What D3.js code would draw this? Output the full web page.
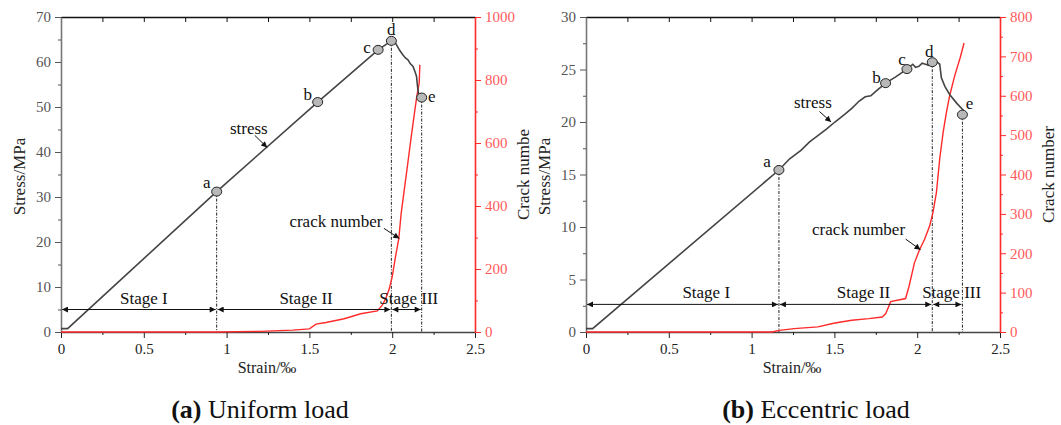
<!DOCTYPE html>
<html>
<head>
<meta charset="utf-8">
<script src="https://cdn.jsdelivr.net/npm/d3@7"></script>
<style>
  body { margin: 0; background: #fff; }
  svg { display: block; }
  text { font-family: "Liberation Serif", "Times New Roman", "DejaVu Serif", serif; }
</style>
</head>
<body>
<script>
"use strict";

// ---- data ----

// (a) uniform load
let strainA = [0, 0.04, 0.94, 1.55, 1.915, 1.995, 2.02, 2.045, 2.064, 2.08, 2.095, 2.11, 2.126, 2.14, 2.147, 2.153, 2.16];
let stressA = [0.75, 0.75, 31.2, 51.1, 62.7, 64.7, 64.2, 62.6, 61.6, 60.9, 60.5, 59.6, 59.0, 57.6, 56.8, 54.6, 52.7];

let crackStrainA = [0, 0.94, 1.2, 1.4, 1.5, 1.54, 1.6, 1.71, 1.81, 1.91, 1.94, 1.96, 1.98, 2.0, 2.02, 2.04, 2.054, 2.07, 2.094, 2.115, 2.137, 2.15, 2.163, 2.167];
let crackA = [0, 0, 2, 6, 10, 25, 30, 42, 58, 67, 85, 105, 133, 175, 239, 297, 376, 440, 535, 620, 705, 753, 790, 848];

let pointNames = ["a", "b", "c", "d", "e"];
let pointStrainA = [0.94, 1.55, 1.915, 1.995, 2.178];
let pointStressA = [31.2, 51.1, 62.7, 64.7, 52.1];

// (b) eccentric load
let strainB = [0, 0.04, 1.165, 1.23, 1.298, 1.35, 1.40, 1.45, 1.503, 1.56, 1.605, 1.65, 1.686, 1.72, 1.748, 1.809, 1.87, 1.938, 1.973, 1.99, 2.01, 2.03, 2.05, 2.07, 2.091, 2.12, 2.136, 2.146, 2.167, 2.197, 2.238, 2.28];
let stressB = [0.32, 0.32, 15.43, 16.5, 17.3, 18.1, 18.7, 19.3, 20.0, 20.7, 21.3, 22.0, 22.4, 22.5, 22.9, 23.7, 24.3, 25.04, 25.5, 25.2, 25.3, 25.6, 25.5, 25.4, 25.7, 25.7, 25.5, 24.2, 23.4, 22.6, 21.8, 21.1];

let crackStrainB = [0, 1.124, 1.165, 1.257, 1.40, 1.503, 1.605, 1.707, 1.789, 1.81, 1.84, 1.93, 1.95, 1.983, 2.014, 2.044, 2.075, 2.095, 2.116, 2.136, 2.157, 2.177, 2.197, 2.228, 2.259, 2.283];
let crackB = [0, 0, 4, 8.5, 13, 23, 30, 34, 38, 47, 77, 85, 115, 175, 209, 235, 269, 303, 354, 440, 508, 559, 602, 653, 696, 734];

let pointStrainB = [1.165, 1.809, 1.938, 2.091, 2.273];
let pointStressB = [15.43, 23.7, 25.04, 25.7, 20.7];

// stage annotations
let stageNames = ["Stage I", "Stage II", "Stage III"];
let stageTextA = [0.5, 1.48, 2.1];
let stageTextB = [0.726, 1.676, 2.208];
let stageLevelA = 5;
let stageLevelB = 2.63;

let xTicks = [0, 0.5, 1, 1.5, 2, 2.5];
let xTickLabels = ["0", "0.5", "1", "1.5", "2", "2.5"];

let panels = [
	{
		left: 61, strain: strainA, stress: stressA,
		crackStrain: crackStrainA, crack: crackA,
		pStrain: pointStrainA, pStress: pointStressA,
		yMax: 70, yStep: 10, cMax: 1000, cStep: 200,
		labelOff: [[-10, -9], [-10, -8], [-11, -2], [0, -11], [10, -1]],
		stageText: stageTextA, stageLevel: stageLevelA,
		stressLabel: [1.134, 45.3], stressArrow: [[1.17, 43.7], [1.245, 41.0]],
		crackLabel: [1.66, 350], crackArrow: [[1.95, 329], [2.043, 297]],
		rightTitle: "Crack numbe",
		caption: ["(a)", " Uniform load"], captionX: 260
	},
	{
		left: 586, strain: strainB, stress: stressB,
		crackStrain: crackStrainB, crack: crackB,
		pStrain: pointStrainB, pStress: pointStressB,
		yMax: 30, yStep: 5, cMax: 800, cStep: 100,
		labelOff: [[-12, -8], [-9, -6], [-5, -10], [-3, -11], [7, -11]],
		stageText: stageTextB, stageLevel: stageLevelB,
		stressLabel: [1.37, 21.9], stressArrow: [[1.41, 21.0], [1.48, 20.0]],
		crackLabel: [1.646, 260], crackArrow: [[1.93, 236], [2.02, 209]],
		rightTitle: "Crack number",
		caption: ["(b)", " Eccentric load"], captionX: 816
	}
];

let serif = "Liberation Serif, Times New Roman, serif";

let svg = d3.select("body").append("svg")
	.attr("width", 1061)
	.attr("height", 425)
	.attr("font-family", serif);

let defs = svg.append("defs");
defs.append("marker")
	.attr("id", "head")
	.attr("viewBox", "0 0 10 10")
	.attr("refX", 10).attr("refY", 5)
	.attr("markerWidth", 8).attr("markerHeight", 6)
	.attr("markerUnits", "userSpaceOnUse")
	.attr("orient", "auto-start-reverse")
	.append("path").attr("d", "M0,0L10,5L0,10Z").attr("fill", "#111");

let plotW = 414, plotTop = 17, plotBottom = 332;
let axisCol = "#444", red = "#ff2a2a", redText = "#ff5a5a";

panels.forEach(function (p) {

	let x = d3.scaleLinear().domain([0, 2.5]).range([p.left, p.left + plotW]);
	let y = d3.scaleLinear().domain([0, p.yMax]).range([plotBottom, plotTop]);
	let yc = d3.scaleLinear().domain([0, p.cMax]).range([plotBottom, plotTop]);
	let right = p.left + plotW;

	let g = svg.append("g");

	// minor ticks
	let xMinor = d3.range(0.25, 2.5, 0.5);
	let yMinor = d3.range(p.yStep / 2, p.yMax, p.yStep);
	let cMinor = d3.range(p.cStep / 2, p.cMax, p.cStep);

	// bottom axis
	let xb = g.append("g").attr("transform", "translate(0," + plotBottom + ")")
		.call(d3.axisBottom(x).tickValues(xTicks).tickFormat((d, i) => xTickLabels[i]).tickSize(6).tickSizeOuter(0))
		.attr("font-family", serif).attr("font-size", 15);
	xb.selectAll("text").attr("fill", "#222").attr("dy", "0.85em");
	xb.selectAll("line").attr("stroke", "#222");
	xb.select(".domain").attr("stroke", axisCol).attr("stroke-width", 1.6);
	g.append("g").attr("transform", "translate(0," + plotBottom + ")")
		.call(d3.axisBottom(x).tickValues(xMinor).tickFormat("").tickSize(3).tickSizeOuter(0))
		.call(s => s.select(".domain").remove())
		.selectAll("line").attr("stroke", "#222");

	// top axis (inward ticks)
	let xt = g.append("g").attr("transform", "translate(0," + plotTop + ")")
		.call(d3.axisBottom(x).tickValues(xTicks.concat(xMinor)).tickFormat("").tickSize(5).tickSizeOuter(0));
	xt.select(".domain").attr("stroke", "#111").attr("stroke-width", 1.4);
	xt.selectAll("line").attr("stroke", "#111");

	// left axis
	let yl = g.append("g").attr("transform", "translate(" + p.left + ",0)")
		.call(d3.axisLeft(y).tickValues(d3.range(0, p.yMax + 0.01, p.yStep)).tickFormat(d3.format("d"))
			.tickSize(6).tickSizeOuter(0).tickPadding(4))
		.attr("font-family", serif).attr("font-size", 15);
	yl.selectAll("text").attr("fill", "#555");
	yl.selectAll("line").attr("stroke", "#555");
	yl.select(".domain").attr("stroke", "#777").attr("stroke-width", 1.6);
	g.append("g").attr("transform", "translate(" + p.left + ",0)")
		.call(d3.axisLeft(y).tickValues(yMinor).tickFormat("").tickSize(3).tickSizeOuter(0))
		.call(s => s.select(".domain").remove())
		.selectAll("line").attr("stroke", "#555");

	// right axis, crack number
	let yr = g.append("g").attr("transform", "translate(" + right + ",0)")
		.call(d3.axisRight(yc).tickValues(d3.range(0, p.cMax + 1, p.cStep)).tickFormat(d3.format("d"))
			.tickSize(6).tickSizeOuter(0).tickPadding(4))
		.attr("font-family", serif).attr("font-size", 15);
	yr.selectAll("text").attr("fill", redText);
	yr.selectAll("line").attr("stroke", red);
	yr.select(".domain").attr("stroke", red).attr("stroke-width", 1.6);
	g.append("g").attr("transform", "translate(" + right + ",0)")
		.call(d3.axisRight(yc).tickValues(cMinor).tickFormat("").tickSize(3).tickSizeOuter(0))
		.call(s => s.select(".domain").remove())
		.selectAll("line").attr("stroke", red);

	// axis titles
	g.append("text")
		.attr("transform", "translate(" + (p.left - 42) + "," + ((plotTop + plotBottom) / 2 + 2) + ") rotate(-90)")
		.attr("text-anchor", "middle").attr("dominant-baseline", "central")
		.attr("font-size", 17).attr("fill", "#222")
		.text("Stress/MPa");
	g.append("text")
		.attr("transform", "translate(" + (right + 48) + "," + ((plotTop + plotBottom) / 2) + ") rotate(-90)")
		.attr("text-anchor", "middle").attr("dominant-baseline", "central")
		.attr("font-size", 17).attr("fill", "#222")
		.text(p.rightTitle);
	g.append("text")
		.attr("x", (p.left + right) / 2 - 1).attr("y", 373)
		.attr("text-anchor", "middle").attr("font-size", 16).attr("fill", "#222")
		.text("Strain/\u2030");

	// dashed guides at a, d, e
	[0, 3, 4].forEach(function (i) {
		g.append("line")
			.attr("x1", x(p.pStrain[i])).attr("x2", x(p.pStrain[i]))
			.attr("y1", y(p.pStress[i])).attr("y2", plotBottom)
			.attr("stroke", "#222").attr("stroke-width", 1)
			.attr("stroke-dasharray", "3,1.5,1,1.5");
	});

	// crack number curve
	let crackPts = p.crackStrain.map((s, i) => [s, p.crack[i]]);
	g.append("path")
		.datum(crackPts)
		.attr("d", d3.line().x(d => x(d[0])).y(d => yc(d[1])))
		.attr("fill", "none").attr("stroke", red).attr("stroke-width", 1.4);

	// stress curve
	let stressPts = p.strain.map((s, i) => [s, p.stress[i]]);
	g.append("path")
		.datum(stressPts)
		.attr("d", d3.line().x(d => x(d[0])).y(d => y(d[1])))
		.attr("fill", "none").attr("stroke", "#444").attr("stroke-width", 1.6);

	// stage arrows
	let bounds = [0, p.pStrain[0], p.pStrain[3], p.pStrain[4]];
	let ly = y(p.stageLevel);
	for (let i = 0; i < 3; i++) {
		g.append("line")
			.attr("x1", x(bounds[i]) + 1).attr("x2", x(bounds[i + 1]) - 1)
			.attr("y1", ly).attr("y2", ly)
			.attr("stroke", "#111").attr("stroke-width", 1)
			.attr("marker-start", "url(#head)").attr("marker-end", "url(#head)");
		g.append("text")
			.attr("x", x(p.stageText[i])).attr("y", ly - 6)
			.attr("text-anchor", "middle").attr("font-size", 17).attr("fill", "#111")
			.text(stageNames[i]);
	}

	// marked points
	p.pStrain.forEach(function (s, i) {
		g.append("ellipse")
			.attr("cx", x(s)).attr("cy", y(p.pStress[i]))
			.attr("rx", 5).attr("ry", 4.5)
			.attr("fill", "#b8b8b8").attr("stroke", "#222").attr("stroke-width", 1);
		g.append("text")
			.attr("x", x(s) + p.labelOff[i][0]).attr("y", y(p.pStress[i]) + p.labelOff[i][1])
			.attr("text-anchor", "middle").attr("dominant-baseline", "central")
			.attr("font-size", 17).attr("fill", "#111")
			.text(pointNames[i]);
	});

	// curve labels with arrows
	g.append("text")
		.attr("x", x(p.stressLabel[0])).attr("y", y(p.stressLabel[1]))
		.attr("text-anchor", "middle").attr("dominant-baseline", "central")
		.attr("font-size", 17).attr("fill", "#111").text("stress");
	g.append("line")
		.attr("x1", x(p.stressArrow[0][0])).attr("y1", y(p.stressArrow[0][1]))
		.attr("x2", x(p.stressArrow[1][0])).attr("y2", y(p.stressArrow[1][1]))
		.attr("stroke", "#111").attr("stroke-width", 1).attr("marker-end", "url(#head)");

	g.append("text")
		.attr("x", x(p.crackLabel[0])).attr("y", yc(p.crackLabel[1]))
		.attr("text-anchor", "middle").attr("dominant-baseline", "central")
		.attr("font-size", 17).attr("fill", "#111").text("crack number");
	g.append("line")
		.attr("x1", x(p.crackArrow[0][0])).attr("y1", yc(p.crackArrow[0][1]))
		.attr("x2", x(p.crackArrow[1][0])).attr("y2", yc(p.crackArrow[1][1]))
		.attr("stroke", "#111").attr("stroke-width", 1).attr("marker-end", "url(#head)");

	// caption
	let cap = svg.append("text")
		.attr("x", p.captionX).attr("y", 418)
		.attr("text-anchor", "middle").attr("font-size", 26).attr("fill", "#111");
	cap.append("tspan").attr("font-weight", "bold").text(p.caption[0]);
	cap.append("tspan").text(p.caption[1]);
});
</script>
</body>
</html>
